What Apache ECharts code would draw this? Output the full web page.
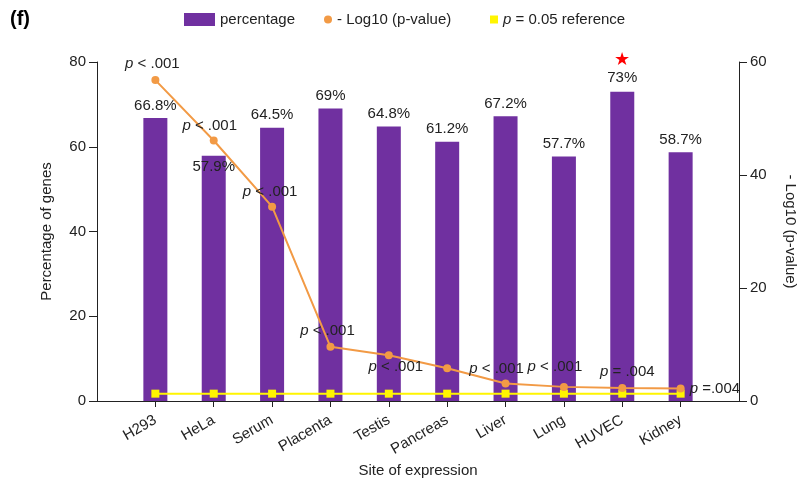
<!DOCTYPE html>
<html>
<head>
<meta charset="utf-8">
<script src="https://cdn.jsdelivr.net/npm/echarts@6/dist/echarts.min.js"></script>
<style>html,body{margin:0;padding:0;background:#fff}#c{width:809px;height:487px}</style>
</head>
<body>
<div id="c"></div>
<script>
const categories = ['H293','HeLa','Serum','Placenta','Testis','Pancreas','Liver','Lung','HUVEC','Kidney'];
const percentage = [66.8, 57.9, 64.5, 69, 64.8, 61.2, 67.2, 57.7, 73, 58.7];
const negLog10P = [56.8, 46.1, 34.4, 9.6, 8.1, 5.8, 3.1, 2.5, 2.3, 2.2];
const reference = [1.3, 1.3, 1.3, 1.3, 1.3, 1.3, 1.3, 1.3, 1.3, 1.3];
const pLabels = ['p < .001','p < .001','p < .001','p < .001','p < .001','','p < .001','p < .001','p = .004','p =.004'];
const leftAxis = {min: 0, max: 80, interval: 20};
const rightAxis = {min: 0, max: 60, interval: 20};
const starred = 'HUVEC';

// layout (label placement) kept apart from data
const pLabelLayout = [
  {position:'top', offset:[-3,0]},
  {position:'top', offset:[-4,2]},
  {position:'top', offset:[-2,2]},
  {position:'top', offset:[-3,1]},
  {position:'bottom', offset:[7,-5]},
  {position:'top', offset:[0,0]},
  {position:'top', offset:[-9,2]},
  {position:'top', offset:[-9,-4]},
  {position:'top', offset:[5,0]},
  {position:'right', offset:[0,0]}
];
const barLabelOffset = {HeLa:[0,24]};

const FONT = 'Liberation Sans, Arial, Helvetica, sans-serif';
const TXT = '#222';
const PURPLE = '#7030A0';
const ORANGE = '#F29A45';
const YELLOW = '#FFF500';

const xCats = [''].concat(categories, ['']);
const pad = arr => [null].concat(arr, [null]);

const barData = pad(percentage.map((v, i) => {
  const c = categories[i];
  const item = {value: v};
  if (c === starred) {
    item.label = {formatter: '{s|★}\n' + v + '%', lineHeight: 18};
  } else if (barLabelOffset[c]) {
    item.label = {offset: barLabelOffset[c]};
  }
  return item;
}));

const lineData = pad(negLog10P.map((v, i) => ({
  value: v,
  label: {
    show: pLabels[i] !== '',
    formatter: pLabels[i].replace(/^p/, '{i|p}'),
    position: pLabelLayout[i].position,
    offset: pLabelLayout[i].offset
  }
})));

const chart = echarts.init(document.getElementById('c'));
chart.setOption({
  animation: false,
  textStyle: {fontFamily: FONT},
  title: {text: '(f)', left: 5, top: 4, textStyle: {fontSize: 20, fontWeight: 'bold', color: '#000', fontFamily: FONT}},
  legend: [
    {data: [{name: 'percentage', icon: 'rect'}], left: 179, top: 7, itemWidth: 31, itemHeight: 13,
     textStyle: {fontSize: 15, color: TXT, fontFamily: FONT}},
    {data: [{name: '- Log10 (p-value)', icon: 'circle'}], left: 319, top: 7, itemWidth: 8, itemHeight: 8,
     textStyle: {fontSize: 15, color: TXT, fontFamily: FONT}},
    {data: [{name: 'p = 0.05 reference', icon: 'rect'}], left: 485, top: 7, itemWidth: 8, itemHeight: 8,
     formatter: () => '{i|p} = 0.05 reference',
     textStyle: {fontSize: 15, color: TXT, fontFamily: FONT, rich: {i: {fontStyle: 'italic', fontSize: 15, color: TXT, fontFamily: FONT}}}}
  ],
  grid: {left: 97, right: 70, top: 62, bottom: 86},
  xAxis: {
    type: 'category', data: xCats, boundaryGap: false,
    axisLine: {lineStyle: {color: TXT, width: 1}},
    axisTick: {interval: (i) => i > 0 && i < xCats.length - 1, length: 6, lineStyle: {color: TXT}},
    axisLabel: {rotate: 30, interval: 0, fontSize: 15, color: TXT, margin: 18, fontFamily: FONT},
    name: 'Site of expression', nameLocation: 'middle', nameGap: 62,
    nameTextStyle: {fontSize: 15, color: TXT, fontFamily: FONT}
  },
  yAxis: [
    {type: 'value', position: 'left', min: leftAxis.min, max: leftAxis.max, interval: leftAxis.interval,
     axisLine: {show: true, lineStyle: {color: TXT, width: 1}},
     axisTick: {show: true, length: 8, lineStyle: {color: TXT}},
     splitLine: {show: false},
     axisLabel: {fontSize: 15, color: TXT, margin: 11, fontFamily: FONT},
     name: 'Percentage of genes', nameLocation: 'middle', nameGap: 43,
     nameTextStyle: {fontSize: 15, color: TXT, fontFamily: FONT}},
    {type: 'value', position: 'right', min: rightAxis.min, max: rightAxis.max, interval: rightAxis.interval,
     axisLine: {show: true, lineStyle: {color: TXT, width: 1}},
     axisTick: {show: true, length: 8, lineStyle: {color: TXT}},
     splitLine: {show: false},
     axisLabel: {fontSize: 15, color: TXT, margin: 11, fontFamily: FONT},
     name: '- Log10 (p-value)', nameLocation: 'middle', nameGap: 44, nameRotate: -90,
     nameTextStyle: {fontSize: 15, color: TXT, fontFamily: FONT}}
  ],
  series: [
    {name: 'percentage', type: 'bar', yAxisIndex: 0, data: barData, barWidth: 24,
     itemStyle: {color: PURPLE},
     label: {show: true, position: 'top', distance: 5, fontSize: 15, color: TXT, fontFamily: FONT,
             formatter: '{c}%', rich: {s: {color: '#FF0000', fontSize: 18, lineHeight: 18}}},
     z: 2},
    {name: 'p = 0.05 reference', type: 'line', yAxisIndex: 1, data: pad(reference),
     symbol: 'rect', symbolSize: 8, showSymbol: true,
     lineStyle: {color: YELLOW, width: 2}, itemStyle: {color: YELLOW}, z: 3},
    {name: '- Log10 (p-value)', type: 'line', yAxisIndex: 1, data: lineData,
     symbol: 'circle', symbolSize: 8, showSymbol: true,
     lineStyle: {color: ORANGE, width: 2}, itemStyle: {color: ORANGE},
     label: {fontSize: 15, color: TXT, fontFamily: FONT, distance: 5,
             rich: {i: {fontStyle: 'italic', fontSize: 15, color: TXT, fontFamily: FONT}}},
     z: 4}
  ]
});
</script>
</body>
</html>
